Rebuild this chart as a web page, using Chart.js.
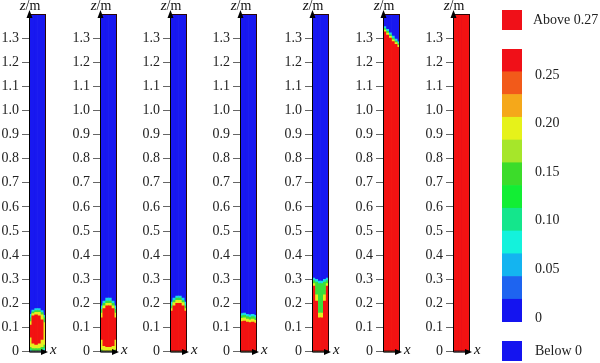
<!DOCTYPE html>
<html>
<head>
<meta charset="utf-8">
<script src="https://cdn.jsdelivr.net/npm/chart.js@4.4.0/dist/chart.umd.min.js"></script>
<style>
  body { margin: 0; background: #fff; }
  #wrap { position: relative; width: 600px; height: 363px; overflow: hidden; background: #fff; }
  #wrap canvas { position: absolute; top: 0; }
</style>
</head>
<body>
<div id="wrap"></div>
<script>
// z axis (m)
const zTicks = [0, 0.1, 0.2, 0.3, 0.4, 0.5, 0.6, 0.7, 0.8, 0.9, 1.0, 1.1, 1.2, 1.3];
const zTop = 1.4;
// six cells across the column width
const xCells = ['c1', 'c2', 'c3', 'c4', 'c5', 'c6'];

// each panel: [red, yellow, green, cyan] z-ranges per cell, the rest is blue
const panel1 = [
  [[0.06, 0.11], [0.035, 0.148], [0.03, 0.152], [0.035, 0.148], [0.05, 0.132], null],
  [[0.02, 0.125], [0.015, 0.158], [0.015, 0.163], [0.015, 0.163], [0.02, 0.152], [0.03, 0.12]],
  [[0.01, 0.14], [0.005, 0.165], [0.005, 0.17], [0.005, 0.17], [0.008, 0.162], [0.015, 0.14]],
  [[0, 0.155], [0, 0.172], [0, 0.178], [0, 0.178], [0, 0.17], [0, 0.15]]
];
const panel2 = [
  [[0.05, 0.14], [0.025, 0.178], [0.02, 0.19], [0.02, 0.19], [0.025, 0.178], [0.05, 0.14]],
  [[0.01, 0.16], [0.005, 0.19], [0.005, 0.2], [0.005, 0.2], [0.005, 0.19], [0.01, 0.16]],
  [[0, 0.175], [0, 0.2], [0, 0.21], [0, 0.21], [0, 0.2], [0, 0.175]],
  [[0, 0.19], [0, 0.21], [0, 0.222], [0, 0.222], [0, 0.21], [0, 0.19]]
];
const panel3 = [
  [[0, 0.168], [0, 0.19], [0, 0.2], [0, 0.2], [0, 0.19], [0, 0.168]],
  [[0, 0.178], [0, 0.203], [0, 0.213], [0, 0.213], [0, 0.203], [0, 0.178]],
  [[0, 0.19], [0, 0.212], [0, 0.222], [0, 0.222], [0, 0.212], [0, 0.19]],
  [[0, 0.205], [0, 0.222], [0, 0.23], [0, 0.23], [0, 0.222], [0, 0.205]]
];
const panel4 = [
  [[0, 0.125], [0, 0.127], [0, 0.122], [0, 0.12], [0, 0.122], [0, 0.118]],
  [[0, 0.138], [0, 0.14], [0, 0.135], [0, 0.132], [0, 0.135], [0, 0.13]],
  [[0, 0.148], [0, 0.15], [0, 0.145], [0, 0.142], [0, 0.145], [0, 0.14]],
  [[0, 0.158], [0, 0.16], [0, 0.155], [0, 0.152], [0, 0.155], [0, 0.15]]
];
const panel5 = [
  [[0, 0.272], [0, 0.21], [0, 0.14], [0, 0.14], [0, 0.21], [0, 0.272]],
  [[0, 0.282], [0, 0.235], [0, 0.16], [0, 0.16], [0, 0.235], [0, 0.282]],
  [[0, 0.295], [0, 0.288], [0, 0.282], [0, 0.282], [0, 0.288], [0, 0.295]],
  [[0, 0.305], [0, 0.3], [0, 0.292], [0, 0.292], [0, 0.3], [0, 0.305]]
];
const panel6 = [
  [[0, 1.326], [0, 1.313], [0, 1.3], [0, 1.286], [0, 1.274], [0, 1.262]],
  [[0, 1.333], [0, 1.321], [0, 1.307], [0, 1.293], [0, 1.281], [0, 1.27]],
  [[0, 1.34], [0, 1.328], [0, 1.314], [0, 1.3], [0, 1.288], [0, 1.277]],
  [[0, 1.348], [0, 1.336], [0, 1.322], [0, 1.308], [0, 1.296], [0, 1.285]]
];
const panel7 = [
  [[0, 1.4], [0, 1.4], [0, 1.4], [0, 1.4], [0, 1.4], [0, 1.4]],
  [null, null, null, null, null, null],
  [null, null, null, null, null, null],
  [null, null, null, null, null, null]
];
const blueBase = [[0, 1.4], [0, 1.4], [0, 1.4], [0, 1.4], [0, 1.4], [0, 1.4]];

// colour scale, bottom to top
const legendBounds = [0, 0.0225, 0.045, 0.0675, 0.09, 0.1125, 0.135, 0.1575, 0.18, 0.2025, 0.225, 0.2475, 0.27];
const legendColors = ['#1414f0', '#1e64f0', '#14b4f0', '#14f2dc', '#14e68c', '#12ee34',
                      '#3cdc2a', '#a6e62a', '#e6f21a', '#f5a81a', '#f25a1a', '#f01018'];
const legendTicks = [0, 0.05, 0.10, 0.15, 0.20, 0.25];
const aboveText = 'Above 0.27';
const belowText = 'Below 0';

const panels = [panel1, panel2, panel3, panel4, panel5, panel6, panel7];
const levelColors = ['#f21212', '#e6ee1e', '#3ae03a', '#18d8e8'];
const blueColor = '#1818f0';
const colLefts = [29, 100, 170, 240, 312, 383, 453];
const serif = '"Liberation Serif", "DejaVu Serif", serif';

const wrap = document.getElementById('wrap');
function addCanvas(left, w) {
  const c = document.createElement('canvas');
  c.width = w; c.height = 363;
  c.style.left = left + 'px';
  c.style.width = w + 'px'; c.style.height = '363px';
  wrap.appendChild(c);
  return c;
}

const panelDecor = {
  id: 'panelDecor',
  afterDraw(chart) {
    const { ctx, chartArea: a } = chart;
    ctx.save();
    ctx.strokeStyle = '#2a0505';
    ctx.lineWidth = 1;
    ctx.strokeRect(a.left + 0.5, a.top + 0.5, a.right - a.left - 1, a.bottom - a.top - 1);
    ctx.strokeStyle = '#000';
    ctx.beginPath();
    ctx.moveTo(a.left + 0.5, a.top); ctx.lineTo(a.left + 0.5, a.bottom + 0.5);
    ctx.lineTo(a.right, a.bottom + 0.5);
    ctx.stroke();
    ctx.fillStyle = '#000';
    // arrow heads
    ctx.beginPath();
    ctx.moveTo(a.left + 0.5, a.top - 4); ctx.lineTo(a.left - 2.5, a.top + 4); ctx.lineTo(a.left + 3.5, a.top + 4);
    ctx.fill();
    ctx.beginPath();
    ctx.moveTo(a.right + 2, a.bottom + 0.5); ctx.lineTo(a.right - 5, a.bottom - 2.5); ctx.lineTo(a.right - 5, a.bottom + 3.5);
    ctx.fill();
    // axis names
    ctx.fillStyle = '#111';
    ctx.textBaseline = 'alphabetic';
    ctx.font = 'italic 15px ' + serif;
    ctx.fillText('x', a.right + 4, a.bottom + 2);
    const zw = ctx.measureText('z').width;
    ctx.font = '14px ' + serif;
    const mw = ctx.measureText('/m').width;
    const x0 = a.left + 1 - (zw + mw) / 2;
    ctx.font = 'italic 15px ' + serif;
    ctx.fillText('z', x0, 10);
    ctx.font = '14px ' + serif;
    ctx.fillText('/m', x0 + zw, 10);
    ctx.restore();
  }
};

panels.forEach((p, i) => {
  const canvas = addCanvas(colLefts[i] - 29, 72);
  const datasets = p.map((d, k) => ({
    data: d, backgroundColor: levelColors[k], borderWidth: 0, order: k
  }));
  datasets.push({ data: blueBase, backgroundColor: blueColor, borderWidth: 0, order: 4 });
  new Chart(canvas, {
    type: 'bar',
    data: { labels: xCells, datasets: datasets },
    options: {
      responsive: false, animation: false, devicePixelRatio: 1,
      layout: { padding: { left: 0, right: 26, top: 14, bottom: 6 } },
      plugins: { legend: { display: false }, tooltip: { enabled: false } },
      datasets: { bar: { grouped: false, categoryPercentage: 1, barPercentage: 1 } },
      scales: {
        x: { display: false },
        y: {
          min: 0, max: zTop,
          afterBuildTicks: s => { s.ticks = zTicks.map(v => ({ value: v })); },
          afterFit: s => { s.width = 29; },
          border: { display: false },
          grid: { drawOnChartArea: false, drawTicks: true, tickLength: 7, color: '#666' },
          ticks: {
            padding: 3, color: '#222', font: { family: serif, size: 14 },
            callback: v => v === 0 ? '0' : v.toFixed(1)
          }
        }
      }
    },
    plugins: [panelDecor]
  });
});

// colour scale legend
const legendDecor = {
  id: 'legendDecor',
  afterDraw(chart) {
    const { ctx, chartArea: a } = chart;
    ctx.save();
    ctx.fillStyle = legendColors[legendColors.length - 1];
    ctx.fillRect(a.left, a.top - 39, a.right - a.left, 20);
    ctx.fillStyle = legendColors[0];
    ctx.fillRect(a.left, a.bottom + 19, a.right - a.left, 20);
    ctx.fillStyle = '#222';
    ctx.font = '14px ' + serif;
    ctx.textBaseline = 'middle';
    ctx.fillText(aboveText, a.right + 11, a.top - 29);
    ctx.fillText(belowText, a.right + 13, a.bottom + 29);
    ctx.restore();
  }
};

const legendCanvas = addCanvas(480, 120);
new Chart(legendCanvas, {
  type: 'bar',
  data: {
    labels: ['scale'],
    datasets: legendColors.map((c, k) => ({
      data: [[legendBounds[k], legendBounds[k + 1]]], backgroundColor: c, borderWidth: 0
    }))
  },
  options: {
    responsive: false, animation: false, devicePixelRatio: 1,
    layout: { padding: { left: 22, right: 0, top: 49, bottom: 41 } },
    plugins: { legend: { display: false }, tooltip: { enabled: false } },
    datasets: { bar: { grouped: false, categoryPercentage: 1, barPercentage: 1 } },
    scales: {
      x: { display: false },
      y: { display: false, min: legendBounds[0], max: legendBounds[legendBounds.length - 1] },
      lab: {
        position: 'right', min: -0.0041, max: 0.2767,
        afterBuildTicks: s => { s.ticks = legendTicks.map(v => ({ value: v })); },
        afterFit: s => { s.width = 78; },
        border: { display: false },
        grid: { display: false, drawTicks: false },
        ticks: {
          padding: 13, color: '#222', font: { family: serif, size: 14 },
          callback: v => v === 0 ? '0' : v.toFixed(2)
        }
      }
    }
  },
  plugins: [legendDecor]
});
</script>
</body>
</html>
